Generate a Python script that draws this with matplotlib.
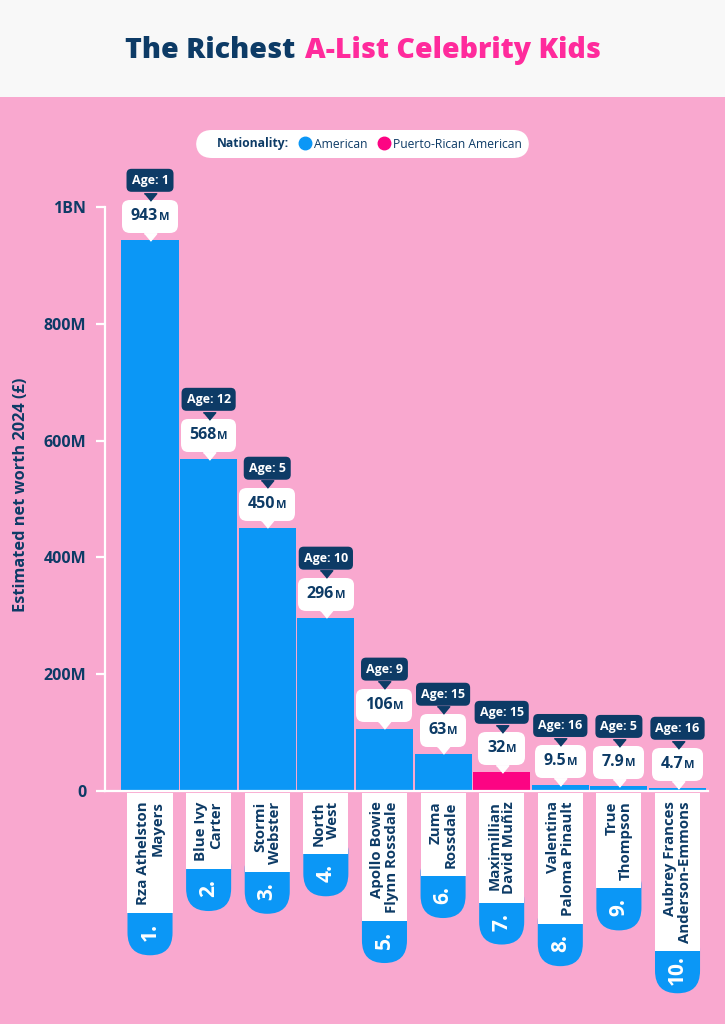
import matplotlib
matplotlib.use("Agg")
import matplotlib.pyplot as plt
from matplotlib.patches import Rectangle, FancyBboxPatch
from matplotlib.lines import Line2D
from matplotlib.offsetbox import TextArea, HPacker, AnnotationBbox, AnchoredOffsetbox
from matplotlib.transforms import offset_copy, IdentityTransform

plt.rcParams['font.family'] = ['Open Sans', 'DejaVu Sans']

# data
names = ['Rza Athelston\nMayers', 'Blue Ivy\nCarter', 'Stormi\nWebster', 'North\nWest',
         'Apollo Bowie\nFlynn Rossdale', 'Zuma\nRossdale', 'Maximillian\nDavid Muñiz',
         'Valentina\nPaloma Pinault', 'True\nThompson', 'Aubrey Frances\nAnderson-Emmons']
net_worth = [943, 568, 450, 296, 106, 63, 32, 9.5, 7.9, 4.7]   # millions GBP
value_text = ['943', '568', '450', '296', '106', '63', '32', '9.5', '7.9', '4.7']
ages = [1, 12, 5, 10, 9, 15, 15, 16, 5, 16]
nationality = ['American', 'American', 'American', 'American', 'American', 'American',
               'Puerto-Rican American', 'American', 'American', 'American']
y_ticks = [0, 200, 400, 600, 800, 1000]
y_tick_labels = ['0', '200M', '400M', '600M', '800M', '1BN']

# colours
navy = '#0d3b66'
pink_bg = '#f9a8cf'
hot_pink = '#ff2b9c'
blue = '#0b97f6'
magenta = '#fc0483'
nat_colors = {'American': blue, 'Puerto-Rican American': magenta}

fig = plt.figure(figsize=(7.25, 10.24), dpi=100, facecolor=pink_bg)
fig.add_artist(Rectangle((0, 1 - 97 / 1024), 1, 97 / 1024, transform=fig.transFigure,
                         facecolor='#f8f8f8', edgecolor='none', zorder=0))

# title in two colours
title = HPacker(children=[
    TextArea('The Richest', textprops=dict(color=navy, fontsize=20.5, fontweight=800)),
    TextArea('A-List Celebrity Kids', textprops=dict(color=hot_pink, fontsize=20.5, fontweight=800)),
], sep=7, align='baseline')
fig.add_artist(AnchoredOffsetbox(loc='center', child=title, frameon=False,
                                 bbox_to_anchor=(0.5, 0.951), bbox_transform=fig.transFigure))

ax = fig.add_axes([105 / 725, (1024 - 791) / 1024, 603 / 725, 584 / 1024])
ax.set_facecolor('none')

x = list(range(len(names)))
bar_colors = [nat_colors[n] for n in nationality]
ax.bar(x, net_worth, width=0.973, color=bar_colors, zorder=2)

ax.set_xlim(-0.768, 9.52)
ax.set_ylim(0, 1000)
ax.set_yticks(y_ticks)
ax.set_yticklabels(y_tick_labels)
ax.set_xticks([])
for s in ['top', 'right']:
    ax.spines[s].set_visible(False)
for s in ['left', 'bottom']:
    ax.spines[s].set_color('white')
    ax.spines[s].set_linewidth(1.6)
ax.tick_params(axis='y', colors='white', length=6.5, width=1.6, pad=7,
               labelcolor=navy, labelsize=11.5)
for lab in ax.get_yticklabels():
    lab.set_fontweight('bold')
ax.set_ylabel('Estimated net worth 2024 (£)', color=navy, fontsize=11.8, fontweight='bold')
ax.yaxis.set_label_coords(-0.126, 0.507)

# value callouts and age tags
tri = [(-1, 0.6), (1, 0.6), (0, -0.6)]
for i, v in enumerate(net_worth):
    val = HPacker(children=[
        TextArea(value_text[i], textprops=dict(color=navy, fontsize=11.5, fontweight='bold')),
        TextArea('M', textprops=dict(color=navy, fontsize=8, fontweight='bold')),
    ], sep=0.5, align='baseline')
    ab = AnnotationBbox(val, (i, v), xybox=(0, 11.5), xycoords='data', boxcoords='offset points',
                        box_alignment=(0.5, 0), frameon=True,
                        bboxprops=dict(boxstyle='round,pad=0.62,rounding_size=0.55',
                                       facecolor='white', edgecolor='none'), zorder=5)
    ax.add_artist(ab)
    ax.plot(i, v, marker=tri, ms=9, color='white', zorder=5, clip_on=False,
            transform=offset_copy(ax.transData, fig=fig, y=2.7, units='points'))
    ax.annotate(f'Age: {ages[i]}', xy=(i, v), xytext=(0, 38.5), textcoords='offset points',
                ha='center', va='bottom', color='white', fontsize=9, fontweight='bold', zorder=6,
                bbox=dict(boxstyle='round,pad=0.4,rounding_size=0.4', facecolor=navy, edgecolor='none'))
    ax.plot(i, v, marker=tri, ms=9, color=navy, zorder=6, clip_on=False,
            transform=offset_copy(ax.transData, fig=fig, y=31.5, units='points'))

# name labels below the axis
name_texts = []
for i, n in enumerate(names):
    t = ax.text(i, 0, n, rotation=90, ha='center', va='top', multialignment='right',
                color=navy, fontsize=10.8, fontweight='bold', zorder=4, linespacing=1.05,
                transform=offset_copy(ax.transData, fig=fig, y=-7.5, units='points'),
                bbox=dict(boxstyle='square,pad=0.55', facecolor='white', edgecolor='none'))
    name_texts.append(t)

fig.canvas.draw()
renderer = fig.canvas.get_renderer()
for i, t in enumerate(name_texts):
    bb = t.get_bbox_patch().get_window_extent(renderer)
    w = bb.width
    cap = FancyBboxPatch((bb.x0, bb.y0 - 42), w, 42 + 25,
                         boxstyle=f'round,pad=0,rounding_size={w / 2}',
                         facecolor=blue, edgecolor='none', transform=IdentityTransform(),
                         zorder=3, clip_on=False)
    ax.add_artist(cap)
    ax.text(bb.x0 + w / 2, bb.y0 - 19, f'{i + 1}.', rotation=90, ha='center', va='center',
            color='white', fontsize=15, fontweight='bold', transform=IdentityTransform(),
            zorder=4, clip_on=False)

# legend
handles = [Line2D([], [], linestyle='none'),
           Line2D([], [], linestyle='none', marker='o', ms=9, color=blue),
           Line2D([], [], linestyle='none', marker='o', ms=9, color=magenta)]
leg = fig.legend(handles, ['Nationality:', 'American', 'Puerto-Rican American'], ncol=3,
                 loc='center', bbox_to_anchor=(0.5, 1 - 144 / 1024), frameon=True,
                 fontsize=8.7, handlelength=0.8, handletextpad=0.35, columnspacing=0.9,
                 borderpad=0.6)
for txt in leg.get_texts():
    txt.set_color(navy)
leg.get_texts()[0].set_fontweight('bold')
frame = leg.get_frame()
frame.set_facecolor('white')
frame.set_edgecolor('none')
frame.set_alpha(1)
frame.set_boxstyle('round,pad=0,rounding_size=1.3')

fig.savefig('out.png', dpi=100, facecolor=fig.get_facecolor())
